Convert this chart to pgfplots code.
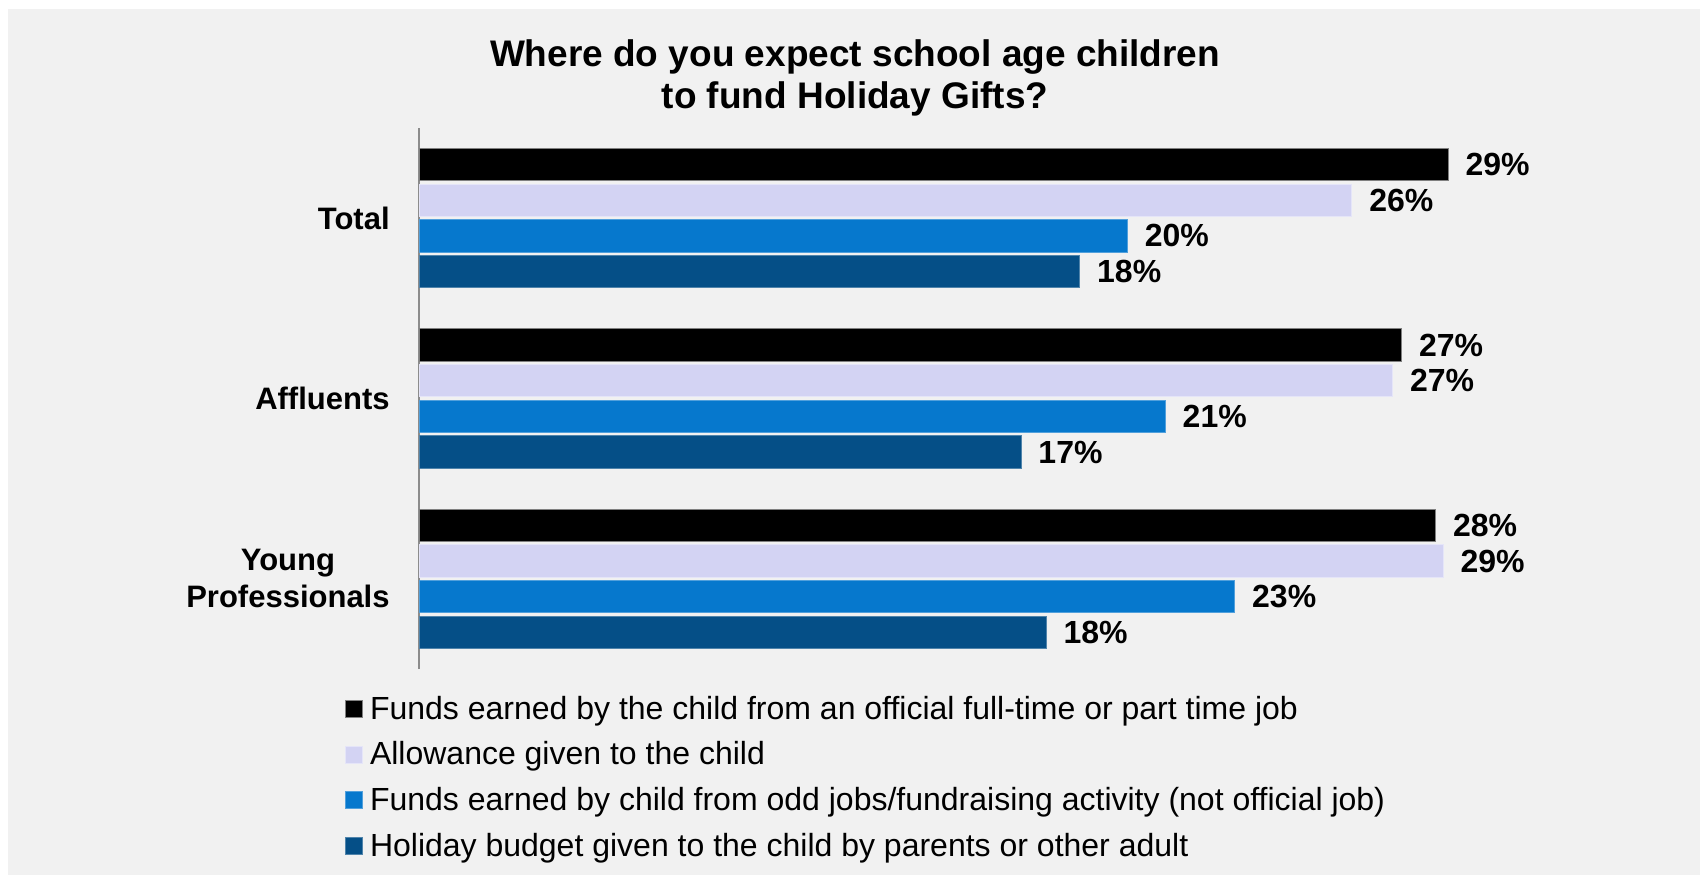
\documentclass[border=0pt]{standalone}
\usepackage{pgfplots}
\pgfplotsset{compat=1.18}
\usepackage{fontspec}
\setmainfont{Liberation Sans}
\definecolor{bg}{HTML}{F1F1F1}
\definecolor{cBlack}{HTML}{000000}
\definecolor{cLav}{HTML}{D3D3F3}
\definecolor{cBlue}{HTML}{0678CD}
\definecolor{cDark}{HTML}{054F87}
\begin{document}
\begin{tikzpicture}[x=1pt,y=1pt]
\useasboundingbox (0,0) rectangle (850,437.5);
\fill[white] (0,0) rectangle (850,437.5);
\fill[bg] (4,0) rectangle (850,433);
\node[font=\bfseries\fontsize{18.5}{20.5}\selectfont, anchor=base, inner sep=0pt] at (427.5,404) {Where do you expect school age children};
\node[font=\bfseries\fontsize{18.5}{20.5}\selectfont, anchor=base, inner sep=0pt] at (427.5,383.5) {to fund Holiday Gifts?};
\begin{axis}[
  at={(209.5pt,103pt)}, anchor=south west,
  scale only axis, width=537pt, height=270.5pt,
  xmin=0, xmax=30, ymin=-0.5, ymax=2.5,
  xbar, bar width=16.25pt,
  axis x line=none, axis y line=left,
  y axis line style={-, draw=gray!90, line width=1pt},
  ytick={0,1,2}, yticklabels={{Young\\Professionals},Affluents,Total},
  yticklabel style={anchor=east, inner sep=0pt, xshift=-14.5pt, align=center, font=\bfseries\fontsize{15.5}{18.5}\selectfont},
  major tick length=0pt,
  clip=false,
  point meta=explicit symbolic,
  nodes near coords,
  every node near coord/.append style={anchor=west, inner sep=0pt, xshift=8.4pt, font=\bfseries\fontsize{16}{19}\selectfont, text=black},
  legend style={at={(axis description cs:-0.0689,-0.0444)}, anchor=north west, draw=none, fill=none, inner sep=0pt, outer sep=0pt, row sep=6.85pt, font=\fontsize{16}{19}\selectfont, nodes={inner sep=0pt, text height=13pt, text depth=3pt}, /tikz/every odd column/.append style={column sep=3.5pt}},
  legend cell align=left,
  legend image code/.code={\fill[#1] (0pt,-4.25pt) rectangle (8.5pt,4.25pt);},
]
\addplot[fill=cBlack, draw=gray, line width=0.5pt, bar shift=26.75pt] coordinates {(28.75,2) [29\%] (27.45,1) [27\%] (28.40,0) [28\%]};
\addlegendentry{Funds earned by the child from an official full-time or part time job}
\addplot[fill=cLav, draw=cLav!60!white, line width=0.5pt, bar shift=8.9pt] coordinates {(26.06,2) [26\%] (27.20,1) [27\%] (28.61,0) [29\%]};
\addlegendentry{Allowance given to the child}
\addplot[fill=cBlue, draw=cBlue!70!white, line width=0.5pt, bar shift=-8.9pt] coordinates {(19.79,2) [20\%] (20.85,1) [21\%] (22.79,0) [23\%]};
\addlegendentry{Funds earned by child from odd jobs/fundraising activity (not official job)}
\addplot[fill=cDark, draw=cDark!70!white, line width=0.5pt, bar shift=-26.75pt] coordinates {(18.46,2) [18\%] (16.82,1) [17\%] (17.52,0) [18\%]};
\addlegendentry{Holiday budget given to the child by parents or other adult}
\end{axis}
\end{tikzpicture}
\end{document}
